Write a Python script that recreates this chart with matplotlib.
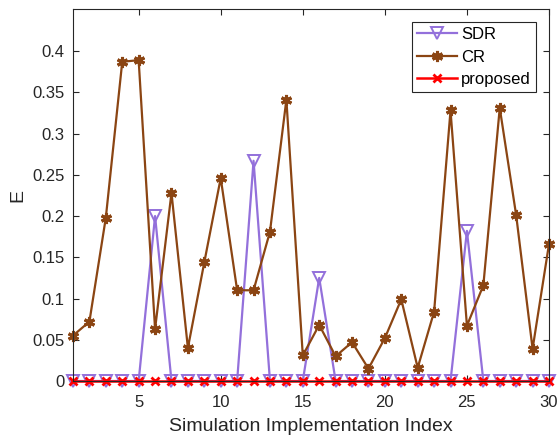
import numpy as np
import matplotlib
matplotlib.use('Agg')
import matplotlib.pyplot as plt

plt.rcParams['font.family'] = ['Liberation Sans', 'DejaVu Sans']

# simulation runs
runs = list(range(1, 31))

# error values
sdr = [0, 0, 0, 0, 0, 0.200, 0, 0, 0, 0,
       0, 0.267, 0, 0, 0, 0.125, 0, 0, 0, 0,
       0, 0, 0, 0, 0.182, 0, 0, 0, 0, 0]
cr = [0.055, 0.072, 0.198, 0.387, 0.389, 0.063, 0.228, 0.040, 0.144, 0.246,
      0.110, 0.110, 0.181, 0.341, 0.031, 0.068, 0.030, 0.047, 0.015, 0.052,
      0.099, 0.016, 0.084, 0.328, 0.067, 0.116, 0.331, 0.201, 0.039, 0.166]
proposed = [0] * 30

fig = plt.figure(figsize=(5.59, 4.36), dpi=100)
ax = fig.add_axes([73 / 559, 55 / 436, 476 / 559, 372 / 436])

ax.plot(runs, sdr, color='#9370DB', lw=1.6, marker='v', markersize=8,
        markerfacecolor='none', markeredgewidth=1.4, label='SDR', clip_on=False)
ax.plot(runs, cr, color='#8B4513', lw=1.6, marker=(6, 2, 0), markersize=8,
        markeredgewidth=2.2, label='CR', clip_on=False)
ax.plot(runs, proposed, color='red', lw=1.8, marker='x', markersize=6,
        markeredgewidth=2, label='proposed', clip_on=False)

ax.set_xlim(1, 30)
ax.set_ylim(0, 0.451)
ax.set_xticks([5, 10, 15, 20, 25, 30])
ax.set_yticks(np.arange(0, 0.41, 0.05))
ax.set_yticklabels(['0', '0.05', '0.1', '0.15', '0.2', '0.25', '0.3', '0.35', '0.4'])
ax.tick_params(direction='in', top=True, right=True, labelsize=12,
               colors='#262626', length=4, width=0.8)
ax.tick_params(axis='x', pad=10)
ax.tick_params(axis='y', pad=6)
for s in ax.spines.values():
    s.set_color('#262626')
    s.set_linewidth(0.8)
    s.set_zorder(5)

ax.set_xlabel('Simulation Implementation Index', fontsize=14, color='#262626', labelpad=6)
ax.set_ylabel('E', fontsize=14, color='#262626', labelpad=4)

leg = ax.legend(loc='upper right', fontsize=12, fancybox=False, edgecolor='#262626',
                framealpha=1, handlelength=2.4, borderaxespad=0.8,
                labelspacing=0.45, handletextpad=0.25, borderpad=0.3)
leg.get_frame().set_linewidth(0.8)

fig.savefig('out.png', dpi=100)
